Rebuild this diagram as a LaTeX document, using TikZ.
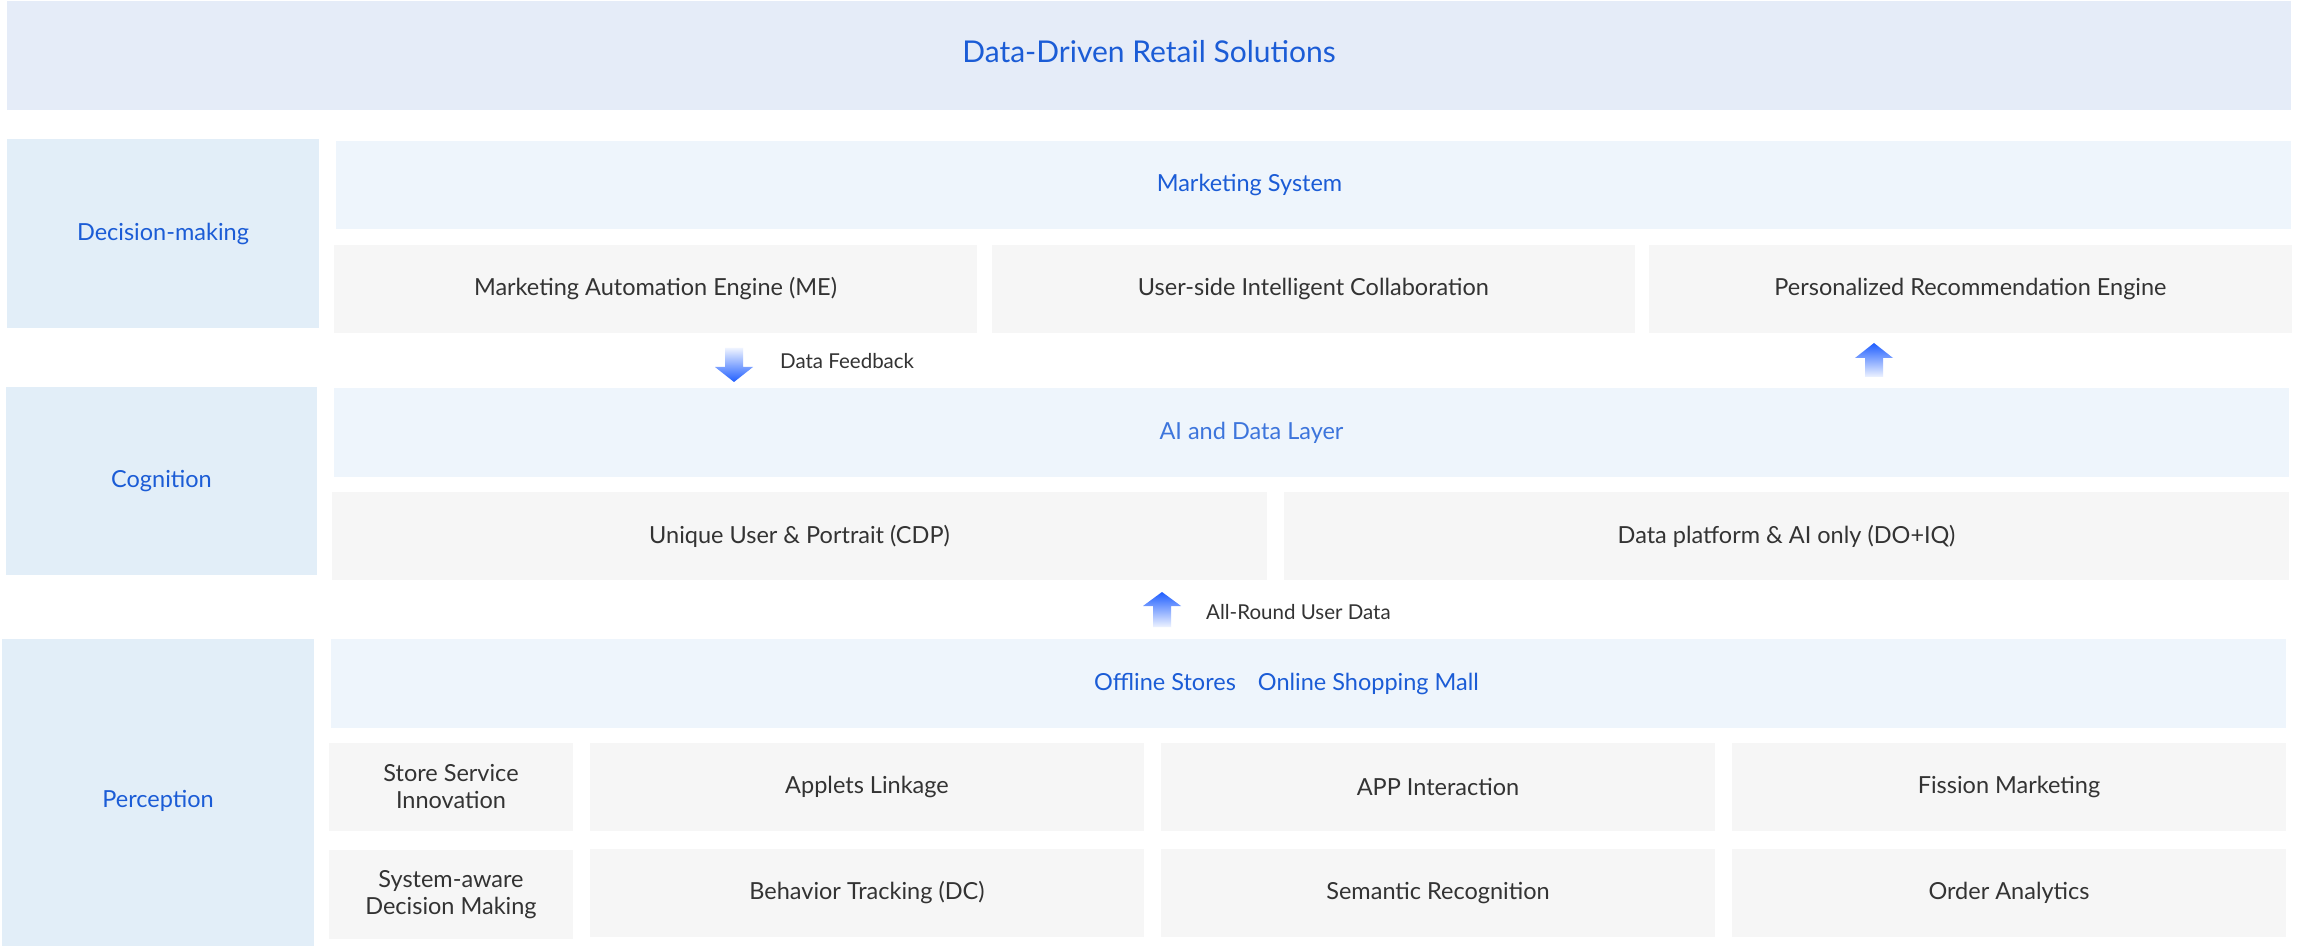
\documentclass[tikz,border=0pt]{standalone}
\usepackage{fontspec}
\setmainfont{Lato}
\usetikzlibrary{positioning}
\definecolor{headbg}{HTML}{E5ECF8}
\definecolor{layerbg}{HTML}{E2EEF8}
\definecolor{bandbg}{HTML}{EEF5FC}
\definecolor{cellbg}{HTML}{F6F6F6}
\definecolor{textblue}{HTML}{1B5CD6}
\definecolor{textdark}{HTML}{333333}
\definecolor{arrowblue}{HTML}{1F5EFF}
\definecolor{arrowlight}{HTML}{EEF3FF}

\begin{document}
\begin{tikzpicture}[x=1pt, y=-1pt,
	box/.style={anchor=north west, inner sep=0pt, outer sep=0pt, align=center},
	layer/.style={box, fill=layerbg, text=textblue, font=\fontsize{23.5}{28}\selectfont},
	band/.style={box, fill=bandbg},
	bandtext/.style={inner sep=0pt, text=textblue, font=\fontsize{23.5}{28}\selectfont},
	cell/.style={box, fill=cellbg, text=textdark, font=\fontsize{23.5}{27}\selectfont},
	note/.style={anchor=west, inner sep=0pt, text=textdark, font=\fontsize{20.5}{24}\selectfont}]
	\useasboundingbox[fill=white] (0,0) rectangle (2300,949);
	% header
	\node[box, fill=headbg, minimum width=2284pt, minimum height=109pt] (head) at (7,1) {};
	\node[bandtext, font=\fontsize{30}{34}\selectfont] (title) at ([yshift=4pt]head.center) {Data-Driven Retail Solutions};
	% decision-making
	\node[layer, minimum width=312pt, minimum height=189pt] (dec) at (7,139) {Decision-making};
	\node[band, minimum width=1955pt, minimum height=88pt] (ms) at (336,141) {};
	\node[bandtext] (mst) at ([xshift=-64pt]ms.center) {Marketing System};
	\node[cell, minimum width=643pt, minimum height=88pt] (me) at (334,245) {Marketing Automation Engine (ME)};
	\node[cell, minimum width=643pt, minimum height=88pt] (usic) at (992,245) {User-side Intelligent Collaboration};
	\node[cell, minimum width=643pt, minimum height=88pt] (pre) at (1649,245) {Personalized Recommendation Engine};
	% cognition
	\node[layer, minimum width=311pt, minimum height=188pt] (cog) at (6,387) {Cognition};
	\node[band, minimum width=1955pt, minimum height=89pt] (ai) at (334,388) {};
	\node[bandtext, text=textblue!85] (ait) at ([xshift=-60pt]ai.center) {AI and Data Layer};
	\node[cell, minimum width=935pt, minimum height=88pt] (cdp) at (332,492) {Unique User \& Portrait (CDP)};
	\node[cell, minimum width=1005pt, minimum height=88pt] (doiq) at (1284,492) {Data platform \& AI only (DO+IQ)};
	% perception
	\node[layer, minimum width=312pt, minimum height=307pt] (per) at (2,639) {};
	\node[bandtext] (pert) at ([yshift=-8pt]per.center) {Perception};
	\node[band, minimum width=1955pt, minimum height=89pt] (off) at (331,639) {};
	\node[bandtext] (offt) at ([xshift=-22pt]off.center) {Offline Stores\hspace{22pt}Online Shopping Mall};
	\node[cell, minimum width=244pt, minimum height=88pt] (ssi) at (329,743) {Store Service\\Innovation};
	\node[cell, minimum width=554pt, minimum height=88pt] (al) at (590,743) {Applets Linkage};
	\node[cell, minimum width=554pt, minimum height=88pt] (appi) at (1161,743) {APP Interaction};
	\node[cell, minimum width=554pt, minimum height=88pt] (fm) at (1732,743) {Fission Marketing};
	\node[cell, minimum width=244pt, minimum height=89pt] (sadm) at (329,850) {System-aware\\Decision Making};
	\node[cell, minimum width=554pt, minimum height=88pt] (bt) at (590,849) {Behavior Tracking (DC)};
	\node[cell, minimum width=554pt, minimum height=88pt] (sr) at (1161,849) {Semantic Recognition};
	\node[cell, minimum width=554pt, minimum height=88pt] (oa) at (1732,849) {Order Analytics};
	% arrows
	\shade[top color=arrowlight, bottom color=arrowblue] (725,348) -- (743,348) -- (743,367) -- (753,367) -- (734,382) -- (715,367) -- (725,367) -- cycle;
	\node[note] (fb) at (780,361) {Data Feedback};
	\shade[top color=arrowblue, bottom color=arrowlight] (1874,343) -- (1893,358) -- (1883,358) -- (1883,377) -- (1865,377) -- (1865,358) -- (1855,358) -- cycle;
	\shade[top color=arrowblue, bottom color=arrowlight] (1162,592) -- (1181,606) -- (1171,606) -- (1171,627) -- (1153,627) -- (1153,606) -- (1143,606) -- cycle;
	\node[note] (ud) at (1206,612) {All-Round User Data};
\end{tikzpicture}
\end{document}
